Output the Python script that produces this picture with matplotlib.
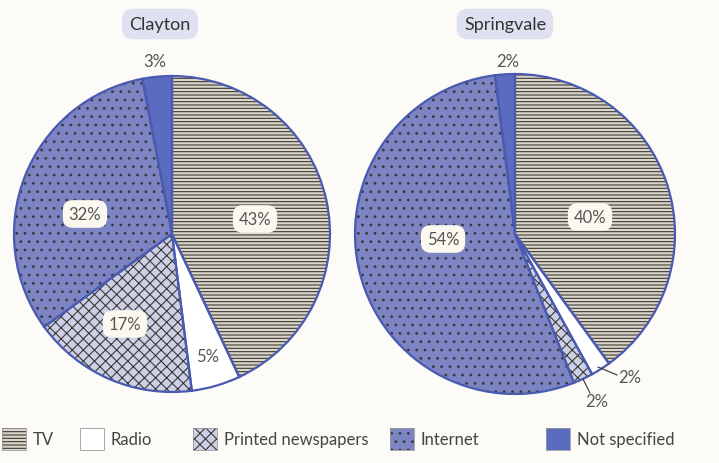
import matplotlib
matplotlib.use("Agg")
import matplotlib.pyplot as plt
from matplotlib.patches import Rectangle

categories = ["TV", "Radio", "Printed newspapers", "Internet", "Not specified"]
clayton = [43, 5, 17, 32, 3]
springvale = [40, 2, 2, 54, 2]
titles = ["Clayton", "Springvale"]

colors = ["#ddd6c8", "#ffffff", "#cdd0e4", "#7d84c4", "#5a6bc0"]
hatches = ["-----", "", "xxx", "..", ""]
EDGE = "#4a5ab0"
H = 464

plt.rcParams["hatch.color"] = "#3a3a3a"
plt.rcParams["hatch.linewidth"] = 0.8
plt.rcParams["font.family"] = ["Lato", "DejaVu Sans"]

fig = plt.figure(figsize=(7.19, 4.64), dpi=100)
fig.patch.set_facecolor("#fdfbf7")
ax = fig.add_axes([0, 0, 1, 1])

def draw(vals, cx, cy, r):
    w1, _ = ax.pie(vals, colors=colors, startangle=90, counterclock=False,
                   center=(cx, H - cy), radius=r, frame=True,
                   wedgeprops=dict(linewidth=0))
    for w, h in zip(w1, hatches):
        if h:
            w.set_hatch(h)
    ax.pie(vals, startangle=90, counterclock=False, center=(cx, H - cy), radius=r,
           frame=True, wedgeprops=dict(fill=False, edgecolor=EDGE, linewidth=1.6))

draw(clayton, 172, 235, 158)
draw(springvale, 515, 235, 160)
ax.set_xlim(0, 719)
ax.set_ylim(0, H)
ax.set_aspect("equal")
ax.axis("off")

box = dict(boxstyle="round,pad=0.35,rounding_size=0.6", fc="#fbf8f0", ec="none")
def lab(x, y, s, b=True):
    ax.text(x, H - y, s, ha="center", va="center", fontsize=12, color="#555555",
            bbox=box if b else None)

lab(255, 220, f"{clayton[0]}%")
lab(85, 215, f"{clayton[3]}%")
lab(125, 325, f"{clayton[2]}%")
lab(208, 357, f"{clayton[1]}%", False)
lab(155, 62, f"{clayton[4]}%", False)
lab(590, 218, f"{springvale[0]}%")
lab(443, 240, f"{springvale[3]}%")
lab(508, 62, f"{springvale[4]}%", False)
lab(630, 378, f"{springvale[1]}%", False)
lab(597, 402, f"{springvale[2]}%", False)
ax.plot([598, 617], [H - 368, H - 376], color="#333333", lw=0.8)
ax.plot([583, 590], [H - 380, H - 394], color="#333333", lw=0.8)

tbox = dict(boxstyle="round,pad=0.4,rounding_size=0.6", fc="#dfe0f0", ec="none")
ax.text(160, H - 25, titles[0], ha="center", va="center", fontsize=13, color="#333333", bbox=tbox)
ax.text(505, H - 25, titles[1], ha="center", va="center", fontsize=13, color="#333333", bbox=tbox)

lx = [2, 80, 193, 390, 546]
for x, c, h, name in zip(lx, colors, hatches, categories):
    rc = Rectangle((x, H - 451), 24, 22, facecolor=c, hatch=h if h else None, linewidth=0)
    ax.add_patch(rc)
    ax.add_patch(Rectangle((x, H - 451), 24, 22, fill=False, edgecolor="#999999", linewidth=0.6))
    ax.text(x + 31, H - 440, name, ha="left", va="center", fontsize=12, color="#444444")

fig.savefig("out.png", dpi=100, facecolor=fig.get_facecolor())
